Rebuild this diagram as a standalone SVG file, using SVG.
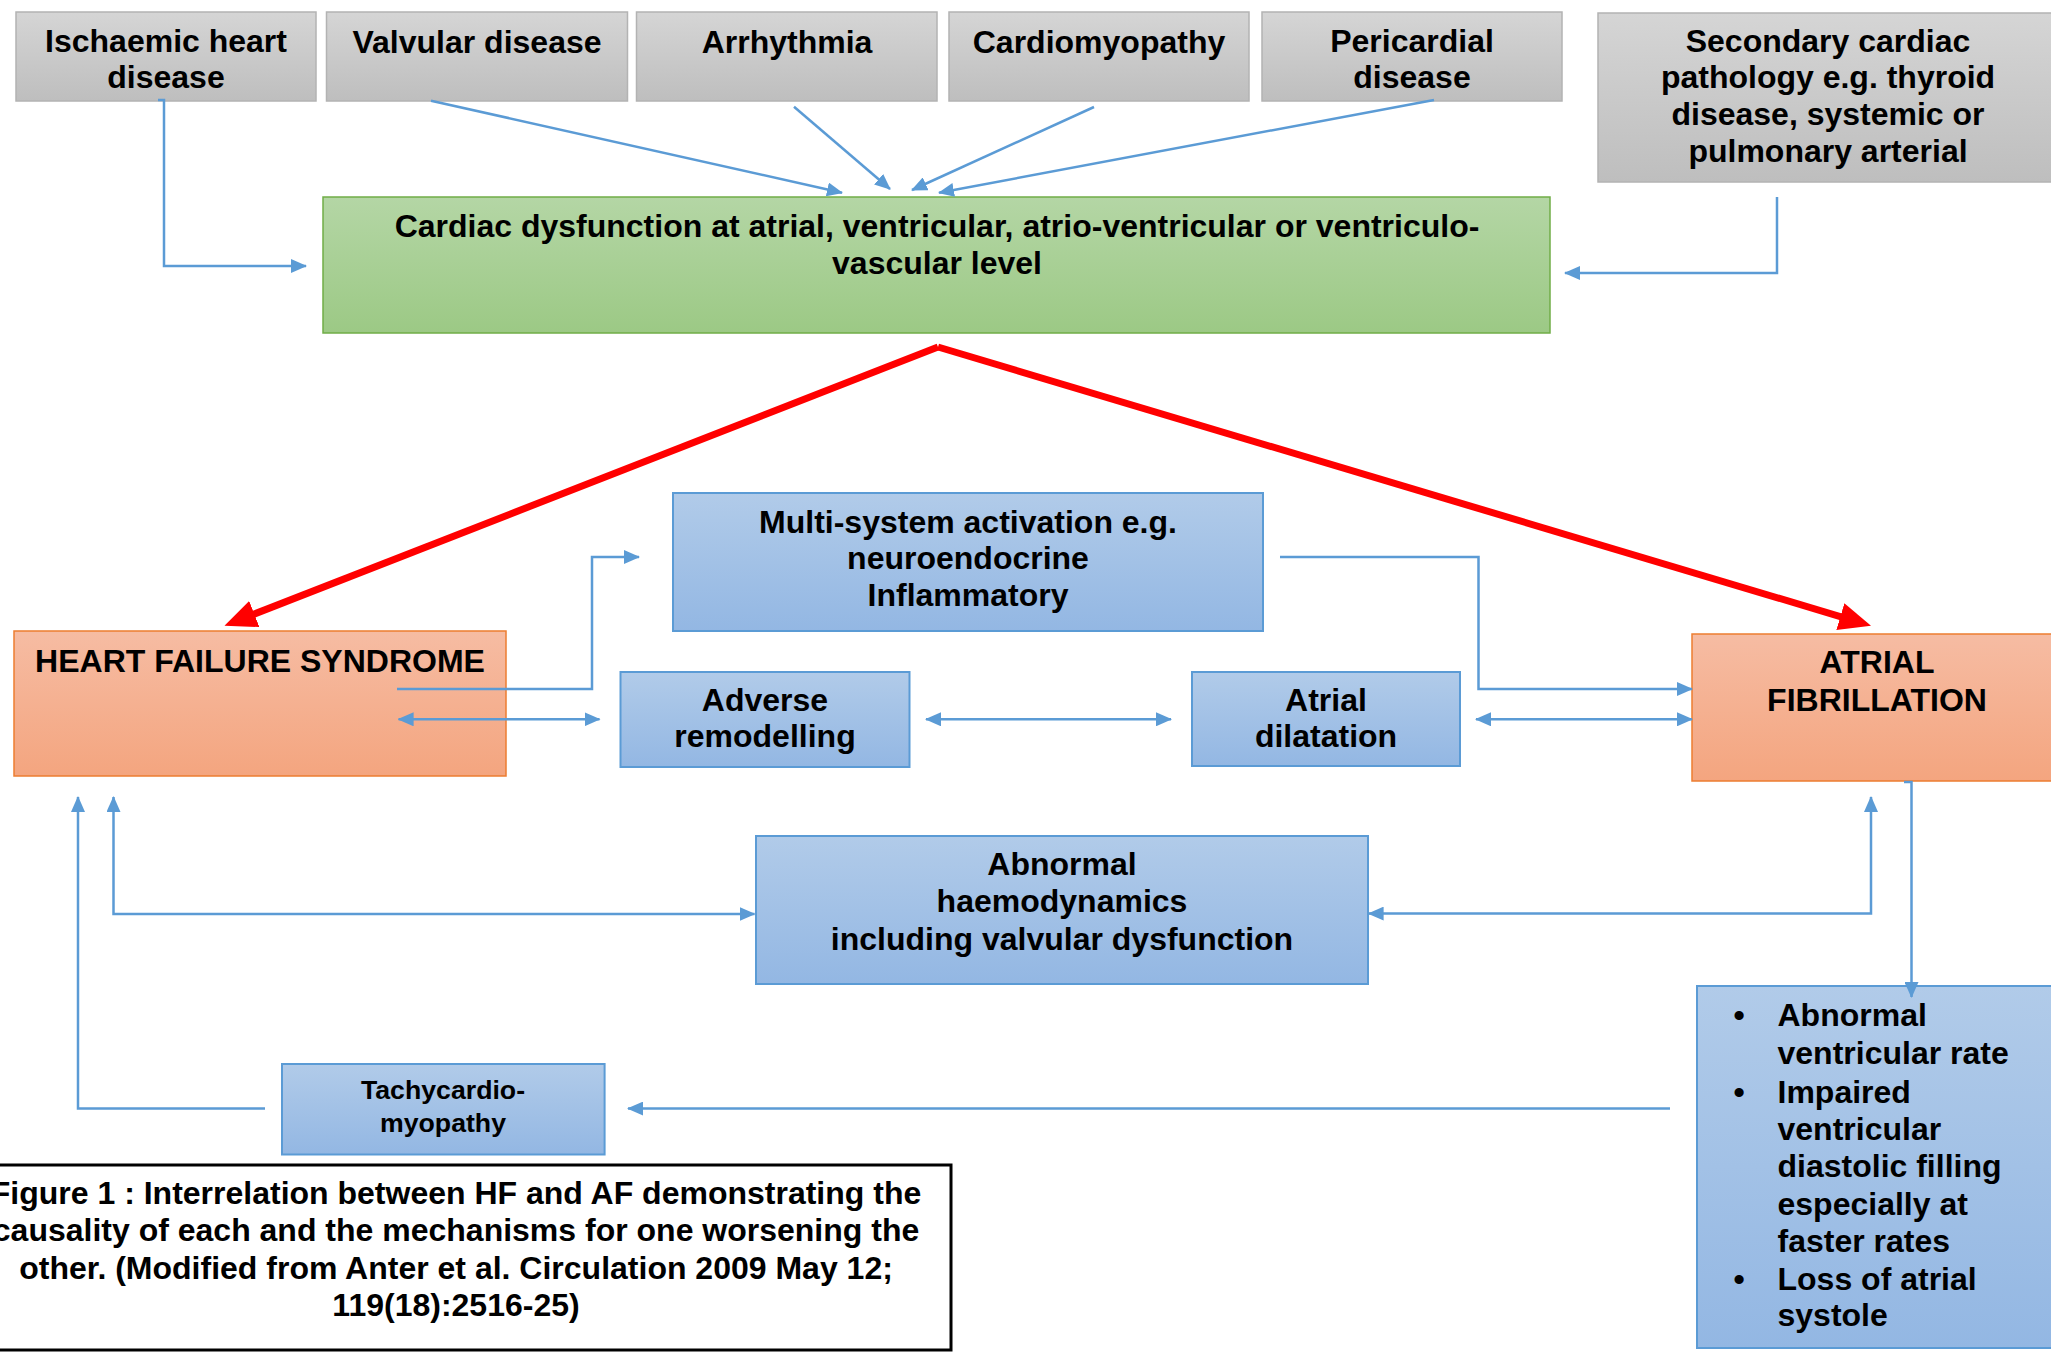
<svg xmlns="http://www.w3.org/2000/svg" width="2051" height="1353" viewBox="0 0 2051 1353">
<style>
text{font-family:"Liberation Sans",Arial,sans-serif;font-weight:bold;font-size:32px;fill:#000}
.c{text-anchor:middle}
.gray{fill:url(#gGray);stroke:#b3b3b3;stroke-width:1.5}
.green{fill:url(#gGreen);stroke:#70ad47;stroke-width:1.5}
.blue{fill:url(#gBlue);stroke:#5b9bd5;stroke-width:2}
.orange{fill:url(#gOrange);stroke:#ed7d31;stroke-width:1.5}
.con{fill:none;stroke:#5b9bd5;stroke-width:2.5}
.red{fill:none;stroke:#ff0000;stroke-width:7}
</style>
<defs>
<linearGradient id="gGray" x1="0" y1="0" x2="0" y2="1"><stop offset="0" stop-color="#d5d5d5"/><stop offset="1" stop-color="#bebebe"/></linearGradient>
<linearGradient id="gGreen" x1="0" y1="0" x2="0" y2="1"><stop offset="0" stop-color="#b4d6a5"/><stop offset="1" stop-color="#9cc985"/></linearGradient>
<linearGradient id="gBlue" x1="0" y1="0" x2="0" y2="1"><stop offset="0" stop-color="#b1cbe9"/><stop offset="1" stop-color="#93b7e3"/></linearGradient>
<linearGradient id="gOrange" x1="0" y1="0" x2="0" y2="1"><stop offset="0" stop-color="#f6bca3"/><stop offset="1" stop-color="#f4a57f"/></linearGradient>
<marker id="ab" markerUnits="userSpaceOnUse" markerWidth="16" markerHeight="14" viewBox="0 0 16 14" refX="15" refY="7" orient="auto-start-reverse"><path d="M0,0 L16,7 L0,14 z" fill="#5b9bd5"/></marker>
<marker id="ar" markerUnits="userSpaceOnUse" markerWidth="32" markerHeight="28" viewBox="0 0 32 28" refX="6" refY="14" orient="auto"><path d="M0,0 L32,14 L0,28 z" fill="#ff0000"/></marker>
</defs>
<rect width="2051" height="1353" fill="#ffffff"/>

<g id="ischaemic"><rect class="gray" x="16" y="12" width="300" height="89"/><text class="c" x="166" y="52">Ischaemic heart</text><text class="c" x="166" y="88">disease</text></g>
<g id="valvular"><rect class="gray" x="326.5" y="12" width="301" height="89"/><text class="c" x="477" y="53">Valvular disease</text></g>
<g id="arrhythmia"><rect class="gray" x="636.5" y="12" width="300.5" height="89"/><text class="c" x="787" y="53">Arrhythmia</text></g>
<g id="cardiomyopathy"><rect class="gray" x="949" y="12" width="300" height="89"/><text class="c" x="1099" y="53">Cardiomyopathy</text></g>
<g id="pericardial"><rect class="gray" x="1262" y="12" width="300" height="89"/><text class="c" x="1412" y="52">Pericardial</text><text class="c" x="1412" y="88">disease</text></g>
<g id="secondary"><rect class="gray" x="1598" y="13" width="460" height="169"/><text class="c" x="1828" y="52">Secondary cardiac</text><text class="c" x="1828" y="88">pathology e.g. thyroid</text><text class="c" x="1828" y="125">disease, systemic or</text><text class="c" x="1828" y="162">pulmonary arterial</text></g>

<g id="cardiac-dysfunction"><rect class="green" x="323" y="197" width="1227" height="136"/><text class="c" x="937" y="237">Cardiac dysfunction at atrial, ventricular, atrio-ventricular or ventriculo-</text><text class="c" x="937" y="274">vascular level</text></g>

<g id="heart-failure"><rect class="orange" x="14" y="631" width="492" height="145"/><text class="c" x="260" y="672">HEART FAILURE SYNDROME</text></g>
<g id="atrial-fibrillation"><rect class="orange" x="1692" y="634" width="370" height="147"/><text class="c" x="1877" y="673">ATRIAL</text><text class="c" x="1877" y="711">FIBRILLATION</text></g>

<g id="multi-system"><rect class="blue" x="673" y="493" width="590" height="138"/><text class="c" x="968" y="533">Multi-system activation e.g.</text><text class="c" x="968" y="569">neuroendocrine</text><text class="c" x="968" y="606">Inflammatory</text></g>
<g id="adverse-remodelling"><rect class="blue" x="620.5" y="672" width="289" height="95"/><text class="c" x="765" y="711">Adverse</text><text class="c" x="765" y="747">remodelling</text></g>
<g id="atrial-dilatation"><rect class="blue" x="1192" y="672" width="268" height="94"/><text class="c" x="1326" y="711">Atrial</text><text class="c" x="1326" y="747">dilatation</text></g>
<g id="abnormal-haemodynamics"><rect class="blue" x="756" y="836" width="612" height="148"/><text class="c" x="1062" y="875">Abnormal</text><text class="c" x="1062" y="912">haemodynamics</text><text class="c" x="1062" y="950">including valvular dysfunction</text></g>
<g id="tachycardiomyopathy"><rect class="blue" x="282" y="1064" width="322.6" height="90.5"/><text class="c" x="443" y="1099" style="font-size:26.7px">Tachycardio-</text><text class="c" x="443" y="1131.6" style="font-size:26.7px">myopathy</text></g>
<g id="af-effects"><rect class="blue" x="1697" y="986" width="400" height="362"/>
<text class="c" x="1739" y="1025.7">•</text><text x="1777.5" y="1025.7">Abnormal</text><text x="1777.5" y="1063.8">ventricular rate</text>
<text class="c" x="1739" y="1102.6">•</text><text x="1777.5" y="1102.6">Impaired</text><text x="1777.5" y="1140">ventricular</text><text x="1777.5" y="1177.4">diastolic filling</text><text x="1777.5" y="1214.5">especially at</text><text x="1777.5" y="1251.5">faster rates</text>
<text class="c" x="1739" y="1290">•</text><text x="1777.5" y="1290">Loss of atrial</text><text x="1777.5" y="1325.6">systole</text></g>

<g id="caption"><rect x="-39" y="1165" width="990" height="185" fill="#ffffff" stroke="#000000" stroke-width="3"/>
<text class="c" x="456" y="1204">Figure 1 : Interrelation between HF and AF demonstrating the</text>
<text class="c" x="456" y="1241">causality of each and the mechanisms for one worsening the</text>
<text class="c" x="456" y="1279">other. (Modified from Anter et al. Circulation 2009 May 12;</text>
<text class="c" x="456" y="1316">119(18):2516-25)</text></g>

<g id="connectors">
<path class="con" d="M158,100 H164 V266 H306" marker-end="url(#ab)"/>
<path class="con" d="M1777,197 V273 H1565" marker-end="url(#ab)"/>
<path class="con" d="M431,100.7 L842,192.7" marker-end="url(#ab)"/>
<path class="con" d="M794,106.7 L890,189" marker-end="url(#ab)"/>
<path class="con" d="M1094,107 L912,190" marker-end="url(#ab)"/>
<path class="con" d="M1434,100 L939,192.7" marker-end="url(#ab)"/>
<path class="red" d="M938,347 L248.7,616.2" marker-end="url(#ar)"/>
<path class="red" d="M938,347 L1846.1,618.3" marker-end="url(#ar)"/>
<path class="con" d="M397,689 H592 V557 H639" marker-end="url(#ab)"/>
<path class="con" d="M1280,557 H1478.5 V689 H1692" marker-end="url(#ab)"/>
<path class="con" d="M398.6,719.3 H599.5" marker-start="url(#ab)" marker-end="url(#ab)"/>
<path class="con" d="M926,719.3 H1171" marker-start="url(#ab)" marker-end="url(#ab)"/>
<path class="con" d="M1476,719.3 H1692" marker-start="url(#ab)" marker-end="url(#ab)"/>
<path class="con" d="M113.5,797 V914 H754.5" marker-start="url(#ab)" marker-end="url(#ab)"/>
<path class="con" d="M1871,797 V913.6 H1368.6" marker-start="url(#ab)" marker-end="url(#ab)"/>
<path class="con" d="M1904,782 H1911.5 V997" marker-end="url(#ab)"/>
<path class="con" d="M265,1108.6 H78 V797" marker-end="url(#ab)"/>
<path class="con" d="M1670,1108.6 H628" marker-end="url(#ab)"/>
</g>
</svg>
